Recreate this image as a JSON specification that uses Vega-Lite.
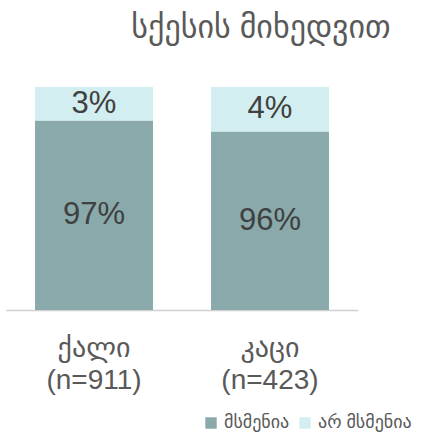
{
  "$schema": "https://vega.github.io/schema/vega-lite/v6.json",
  "width": 352,
  "height": 223,
  "autosize": "none",
  "padding": {"left": 6, "top": 87, "right": 66, "bottom": 128},
  "background": "white",
  "title": {
    "text": "სქესის მიხედვით",
    "anchor": "middle",
    "dx": 79,
    "offset": 42,
    "fontSize": 32,
    "fontWeight": "normal",
    "color": "#595959",
    "font": "Liberation Sans, DejaVu Sans"
  },
  "config": {
    "view": {"stroke": null},
    "font": "Liberation Sans, DejaVu Sans"
  },
  "data": {
    "values": [
      {"group": "ქალი (n=911)", "answer": "მსმენია", "value": 97},
      {"group": "ქალი (n=911)", "answer": "არ მსმენია", "value": 3},
      {"group": "კაცი (n=423)", "answer": "მსმენია", "value": 96},
      {"group": "კაცი (n=423)", "answer": "არ მსმენია", "value": 4}
    ]
  },
  "transform": [
    {"stack": "value", "groupby": ["group"], "sort": [{"field": "answer", "order": "descending"}], "as": ["v0", "v1"]},
    {"calculate": "(max(datum.v0, 80) + datum.v1) / 2", "as": "mid"},
    {"calculate": "datum.value + '%'", "as": "label"}
  ],
  "encoding": {
    "x": {
      "field": "group",
      "type": "nominal",
      "sort": ["ქალი (n=911)", "კაცი (n=423)"],
      "scale": {"paddingInner": 0.33, "paddingOuter": 0.165},
      "axis": {
        "title": null,
        "labelAngle": 0,
        "ticks": false,
        "domainColor": "#d0d0d0",
        "domainWidth": 1.5,
        "labelFontSize": 28,
        "labelColor": "#595959",
        "labelPadding": 24,
        "labelLineHeight": 32,
        "labelExpr": "[split(datum.value, ' ')[0], split(datum.value, ' ')[1]]"
      }
    }
  },
  "layer": [
    {
      "mark": {"type": "bar", "clip": true},
      "encoding": {
        "y": {"field": "v0", "type": "quantitative", "scale": {"domain": [80, 100], "nice": false, "zero": false}, "axis": null},
        "y2": {"field": "v1"},
        "color": {
          "field": "answer",
          "type": "nominal",
          "scale": {"domain": ["მსმენია", "არ მსმენია"], "range": ["#89a9aa", "#d2eef0"]},
          "legend": {
            "title": null,
            "orient": "none",
            "direction": "horizontal",
            "legendX": 196,
            "legendY": 327,
            "symbolType": "square",
            "symbolSize": 130,
            "symbolStrokeWidth": 0,
            "labelFontSize": 18,
            "labelColor": "#595959",
            "labelOffset": 4,
            "columnPadding": 6
          }
        }
      }
    },
    {
      "mark": {"type": "text", "fontSize": 31, "color": "#404040", "baseline": "middle"},
      "encoding": {
        "y": {"field": "mid", "type": "quantitative"},
        "text": {"field": "label"}
      }
    }
  ]
}
